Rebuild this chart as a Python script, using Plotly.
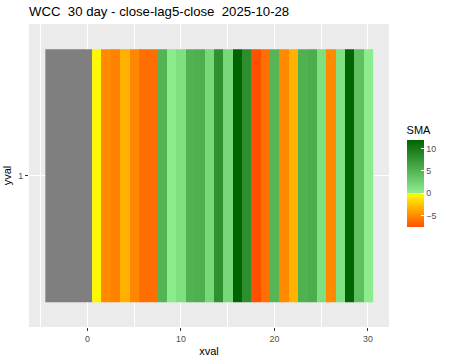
import plotly.graph_objects as go

# data
na_x = [-4, -3, -2, -1, 0]
xval = list(range(1, 31))
sma = [-0.3, -5.0, -5.4, -3.4, -5.2, -6.2, -6.2, 5.0, 0.3, 1.3,
       5.2, 5.4, 2.0, 8.1, 2.0, 11.9, 8.3, -7.5, -6.2, 4.8,
       -5.0, -3.3, 5.3, 5.6, 1.4, -5.0, 1.2, 11.8, 4.0, 0.3]
yval = [1]
x_ticks = [0, 10, 20, 30]
legend_ticks = [-5, 0, 5, 10]
title_text = "WCC \u00a030 day - close-lag5-close \u00a02025-10-28"

zmin, zmax = min(sma), max(sma)
f0 = -zmin / (zmax - zmin)
colorscale = [[0, "#FF5000"], [f0, "#FFFF00"], [min(f0 + 1e-6, 1), "#90EE90"], [1, "#006400"]]

font = "Liberation Sans, Arial, sans-serif"
fig = go.Figure()
fig.add_trace(go.Heatmap(
    x=na_x, y=yval, z=[[0] * len(na_x)],
    colorscale=[[0, "#7F7F7F"], [1, "#7F7F7F"]], showscale=False, hoverinfo="skip"))
fig.add_trace(go.Heatmap(
    x=xval, y=yval, z=[sma], zmin=zmin, zmax=zmax, colorscale=colorscale,
    colorbar=dict(
        title=dict(text="SMA", side="top", font=dict(size=11, color="#000000", family=font)),
        thickness=17, thicknessmode="pixels", len=104, lenmode="pixels",
        x=1.046, xanchor="left", y=0.330, yanchor="bottom",
        tickvals=legend_ticks, ticks="inside", ticklen=3, tickcolor="white", tickwidth=1,
        tickfont=dict(size=8.8, color="#4D4D4D", family=font),
        outlinewidth=0, xpad=0, ypad=0,
    )))

axis_common = dict(showline=False, zeroline=False, ticks="outside", ticklen=3,
                   tickcolor="#333333", tickwidth=1, gridcolor="white", gridwidth=1.07,
                   tickfont=dict(size=8.8, color="#4D4D4D", family=font), automargin=False)
fig.update_layout(
    width=450, height=360,
    margin=dict(l=29, r=60, t=24, b=33.3),
    paper_bgcolor="white", plot_bgcolor="#EBEBEB",
    font=dict(family=font),
    title=dict(text=title_text, x=29 / 450, xref="container", xanchor="left",
               y=1 - 11 / 360, yref="container", yanchor="middle",
               font=dict(size=13.2, color="#000000", family=font)),
    xaxis=dict(range=[-6.25, 32.25], tickmode="array", tickvals=x_ticks,
               minor=dict(dtick=5, tick0=0, showgrid=True, gridcolor="white", gridwidth=0.53, ticks=""),
               title=dict(text="xval", standoff=4, font=dict(size=11, color="#000000", family=font)),
               **axis_common),
    yaxis=dict(range=[0.4, 1.6], tickmode="array", tickvals=yval, ticktext=["1"],
               title=dict(text="yval", standoff=4, font=dict(size=11, color="#000000", family=font)),
               **axis_common),
)
fig.write_html("out.html", config={"displayModeBar": False},
               post_script="document.body.style.margin='0';document.body.style.padding='0';")
